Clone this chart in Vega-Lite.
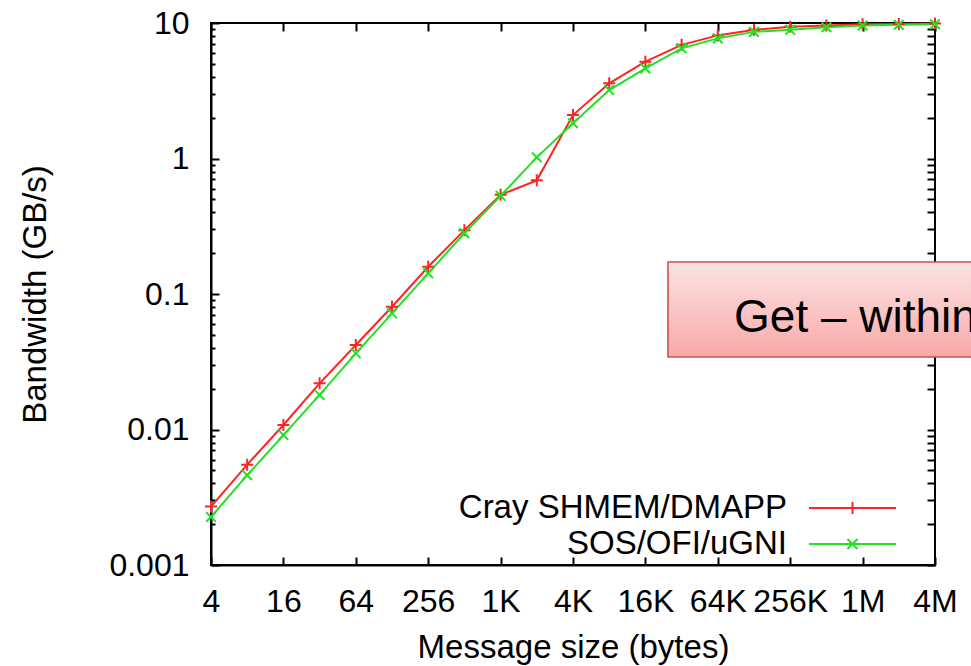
{
  "$schema": "https://vega.github.io/schema/vega-lite/v6.json",
  "width": 724,
  "height": 542,
  "autosize": {"type": "none"},
  "padding": {"left": 211, "top": 23, "right": 36, "bottom": 101},
  "background": "white",
  "config": {
    "font": "Liberation Sans",
    "view": {"stroke": "black", "strokeWidth": 2}
  },
  "data": {
    "values": [
      {"series": "Cray SHMEM/DMAPP", "size": 4, "bw": 0.0027},
      {"series": "Cray SHMEM/DMAPP", "size": 8, "bw": 0.0055},
      {"series": "Cray SHMEM/DMAPP", "size": 16, "bw": 0.0108},
      {"series": "Cray SHMEM/DMAPP", "size": 32, "bw": 0.0219},
      {"series": "Cray SHMEM/DMAPP", "size": 64, "bw": 0.042},
      {"series": "Cray SHMEM/DMAPP", "size": 128, "bw": 0.0805},
      {"series": "Cray SHMEM/DMAPP", "size": 256, "bw": 0.159},
      {"series": "Cray SHMEM/DMAPP", "size": 512, "bw": 0.296},
      {"series": "Cray SHMEM/DMAPP", "size": 1024, "bw": 0.54},
      {"series": "Cray SHMEM/DMAPP", "size": 2048, "bw": 0.69},
      {"series": "Cray SHMEM/DMAPP", "size": 4096, "bw": 2.09},
      {"series": "Cray SHMEM/DMAPP", "size": 8192, "bw": 3.59},
      {"series": "Cray SHMEM/DMAPP", "size": 16384, "bw": 5.18},
      {"series": "Cray SHMEM/DMAPP", "size": 32768, "bw": 6.9},
      {"series": "Cray SHMEM/DMAPP", "size": 65536, "bw": 8.1},
      {"series": "Cray SHMEM/DMAPP", "size": 131072, "bw": 8.9},
      {"series": "Cray SHMEM/DMAPP", "size": 262144, "bw": 9.4},
      {"series": "Cray SHMEM/DMAPP", "size": 524288, "bw": 9.6},
      {"series": "Cray SHMEM/DMAPP", "size": 1048576, "bw": 9.8},
      {"series": "Cray SHMEM/DMAPP", "size": 2097152, "bw": 9.85},
      {"series": "Cray SHMEM/DMAPP", "size": 4194304, "bw": 9.9},
      {"series": "SOS/OFI/uGNI", "size": 4, "bw": 0.00226},
      {"series": "SOS/OFI/uGNI", "size": 8, "bw": 0.0046},
      {"series": "SOS/OFI/uGNI", "size": 16, "bw": 0.0091},
      {"series": "SOS/OFI/uGNI", "size": 32, "bw": 0.018},
      {"series": "SOS/OFI/uGNI", "size": 64, "bw": 0.0365},
      {"series": "SOS/OFI/uGNI", "size": 128, "bw": 0.072},
      {"series": "SOS/OFI/uGNI", "size": 256, "bw": 0.142},
      {"series": "SOS/OFI/uGNI", "size": 512, "bw": 0.281},
      {"series": "SOS/OFI/uGNI", "size": 1024, "bw": 0.53},
      {"series": "SOS/OFI/uGNI", "size": 2048, "bw": 1.02},
      {"series": "SOS/OFI/uGNI", "size": 4096, "bw": 1.82},
      {"series": "SOS/OFI/uGNI", "size": 8192, "bw": 3.2},
      {"series": "SOS/OFI/uGNI", "size": 16384, "bw": 4.62},
      {"series": "SOS/OFI/uGNI", "size": 32768, "bw": 6.5},
      {"series": "SOS/OFI/uGNI", "size": 65536, "bw": 7.7},
      {"series": "SOS/OFI/uGNI", "size": 131072, "bw": 8.6},
      {"series": "SOS/OFI/uGNI", "size": 262144, "bw": 8.9},
      {"series": "SOS/OFI/uGNI", "size": 524288, "bw": 9.3},
      {"series": "SOS/OFI/uGNI", "size": 1048576, "bw": 9.6},
      {"series": "SOS/OFI/uGNI", "size": 2097152, "bw": 9.7},
      {"series": "SOS/OFI/uGNI", "size": 4194304, "bw": 9.8}
    ]
  },
  "layer": [
    {
      "mark": {"type": "line", "strokeWidth": 2},
      "encoding": {
        "x": {
          "field": "size", "type": "quantitative",
          "scale": {"type": "log", "base": 2, "domain": [4, 4194304], "nice": false},
          "axis": {
            "orient": "bottom",
            "values": [4, 16, 64, 256, 1024, 4096, 16384, 65536, 262144, 1048576, 4194304],
            "labelExpr": "datum.value >= 1048576 ? format(datum.value / 1048576, 'd') + 'M' : datum.value >= 1024 ? format(datum.value / 1024, 'd') + 'K' : format(datum.value, 'd')",
            "domain": true,
            "domainColor": "black",
            "domainWidth": 2,
            "ticks": true,
            "tickSize": -8,
            "tickColor": "black",
            "tickWidth": 2,
            "tickOpacity": 1,
            "grid": false,
            "labelAlign": "center",
            "labelColor": "black",
            "labelFontSize": 32,
            "labelPadding": 29,
            "title": "Message size (bytes)",
            "titleFontSize": 33,
            "titleFontWeight": "normal",
            "titleColor": "black",
            "titlePadding": 14
          }
        },
        "y": {
          "field": "bw", "type": "quantitative",
          "scale": {"type": "log", "domain": [0.001, 10], "nice": false},
          "axis": {
            "orient": "left",
            "values": [0.001, 0.002, 0.003, 0.004, 0.005, 0.006, 0.007, 0.008, 0.009, 0.01, 0.02, 0.03, 0.04, 0.05, 0.06, 0.07, 0.08, 0.09, 0.1, 0.2, 0.3, 0.4, 0.5, 0.6, 0.7, 0.8, 0.9, 1, 2, 3, 4, 5, 6, 7, 8, 9, 10],
            "labelExpr": "abs(log(datum.value) / LN10 - round(log(datum.value) / LN10)) < 0.000001 ? format(datum.value, '~g') : ''",
            "domain": true,
            "domainColor": "black",
            "domainWidth": 2,
            "ticks": true,
            "tickSize": {"condition": {"test": "abs(log(datum.value) / LN10 - round(log(datum.value) / LN10)) < 0.000001", "value": -8}, "value": -4},
            "tickColor": "black",
            "tickWidth": 2,
            "tickOpacity": 1,
            "grid": false,
            "labelBaseline": "middle",
            "labelColor": "black",
            "labelFontSize": 32,
            "labelPadding": 30,
            "title": "Bandwidth (GB/s)",
            "titleFontSize": 33,
            "titleFontWeight": "normal",
            "titleColor": "black",
            "titlePadding": 56
          }
        },
        "color": {
          "field": "series", "type": "nominal",
          "scale": {"domain": ["Cray SHMEM/DMAPP", "SOS/OFI/uGNI"], "range": ["#ff2424", "#22e022"]},
          "legend": {
            "orient": "none",
            "legendX": 625,
            "legendY": 468.5,
            "title": null,
            "padding": 0,
            "rowPadding": 2,
            "symbolSize": 841,
            "symbolStrokeWidth": 2,
            "symbolType": "M-3,0H3M0,-0.41V0.41",
            "labelFontSize": 33,
            "labelColor": "black",
            "labelAlign": "right",
            "labelOffset": -82,
            "labelLimit": 0,
            "encode": {
              "symbols": {
                "update": {
                  "shape": [
                    {"test": "datum.value === 'SOS/OFI/uGNI'", "value": "M-3,0H3M-0.35,-0.35L0.35,0.35M-0.35,0.35L0.35,-0.35"},
                    {"value": "M-3,0H3M0,-0.41V0.41"}
                  ]
                }
              }
            }
          }
        }
      }
    },
    {
      "transform": [{"filter": "datum.series === 'Cray SHMEM/DMAPP'"}],
      "mark": {"type": "point", "filled": false, "strokeWidth": 2, "size": 144, "opacity": 1, "color": "#ff2424", "shape": "M-1,0H1M0,-1V1"},
      "encoding": {
        "x": {
          "field": "size", "type": "quantitative",
          "scale": {"type": "log", "base": 2, "domain": [4, 4194304], "nice": false},
          "axis": {
            "orient": "top",
            "offset": -8,
            "values": [4, 16, 64, 256, 1024, 4096, 16384, 65536, 262144, 1048576, 4194304],
            "domain": false,
            "ticks": true,
            "tickSize": 8,
            "tickColor": "black",
            "tickWidth": 2,
            "tickOpacity": 1,
            "grid": false,
            "labels": false,
            "title": null
          }
        },
        "y": {
          "field": "bw", "type": "quantitative",
          "scale": {"type": "log", "domain": [0.001, 10], "nice": false},
          "axis": {
            "orient": "right",
            "offset": -8,
            "values": [0.001, 0.002, 0.003, 0.004, 0.005, 0.006, 0.007, 0.008, 0.009, 0.01, 0.02, 0.03, 0.04, 0.05, 0.06, 0.07, 0.08, 0.09, 0.1, 0.2, 0.3, 0.4, 0.5, 0.6, 0.7, 0.8, 0.9, 1, 2, 3, 4, 5, 6, 7, 8, 9, 10],
            "domain": false,
            "ticks": true,
            "tickSize": 8,
            "tickColor": "black",
            "tickWidth": 2,
            "tickOpacity": 1,
            "grid": false,
            "labels": false,
            "title": null
          }
        }
      }
    },
    {
      "transform": [{"filter": "datum.series === 'SOS/OFI/uGNI'"}],
      "mark": {"type": "point", "filled": false, "strokeWidth": 2, "size": 144, "opacity": 1, "color": "#22e022", "shape": "M-0.8,-0.8L0.8,0.8M-0.8,0.8L0.8,-0.8"},
      "encoding": {
        "x": {"field": "size", "type": "quantitative", "scale": {"type": "log", "base": 2, "domain": [4, 4194304], "nice": false}, "axis": null},
        "y": {"field": "bw", "type": "quantitative", "scale": {"type": "log", "domain": [0.001, 10], "nice": false}, "axis": null}
      }
    },
    {
      "data": {"values": [{}]},
      "mark": {"type": "rect", "fill": "#000000", "opacity": 0.16, "xOffset": -1, "yOffset": 4},
      "encoding": {
        "x": {"datum": 25250, "type": "quantitative", "scale": {"type": "log", "base": 2, "domain": [4, 4194304], "nice": false}, "axis": null},
        "x2": {"datum": 14600000},
        "y": {"datum": 0.1722, "type": "quantitative", "scale": {"type": "log", "domain": [0.001, 10], "nice": false}, "axis": null},
        "y2": {"datum": 0.03426}
      }
    },
    {
      "data": {"values": [{}]},
      "mark": {
        "type": "rect",
        "fill": {"gradient": "linear", "x1": 0, "y1": 0, "x2": 0, "y2": 1, "stops": [{"offset": 0, "color": "#fde3e3"}, {"offset": 1, "color": "#f8a9a9"}]},
        "stroke": "#c9504f",
        "strokeWidth": 1.5
      },
      "encoding": {
        "x": {"datum": 25250, "type": "quantitative", "scale": {"type": "log", "base": 2, "domain": [4, 4194304], "nice": false}, "axis": null},
        "x2": {"datum": 14600000},
        "y": {"datum": 0.1722, "type": "quantitative", "scale": {"type": "log", "domain": [0.001, 10], "nice": false}, "axis": null},
        "y2": {"datum": 0.03426}
      }
    },
    {
      "data": {"values": [{}]},
      "mark": {"type": "text", "text": "Get – within", "fontSize": 46, "align": "left", "baseline": "alphabetic", "color": "black", "font": "Liberation Sans"},
      "encoding": {
        "x": {"datum": 89400, "type": "quantitative", "scale": {"type": "log", "base": 2, "domain": [4, 4194304], "nice": false}, "axis": null},
        "y": {"datum": 0.0527, "type": "quantitative", "scale": {"type": "log", "domain": [0.001, 10], "nice": false}, "axis": null}
      }
    }
  ],
  "resolve": {"axis": {"x": "independent", "y": "independent"}}
}
